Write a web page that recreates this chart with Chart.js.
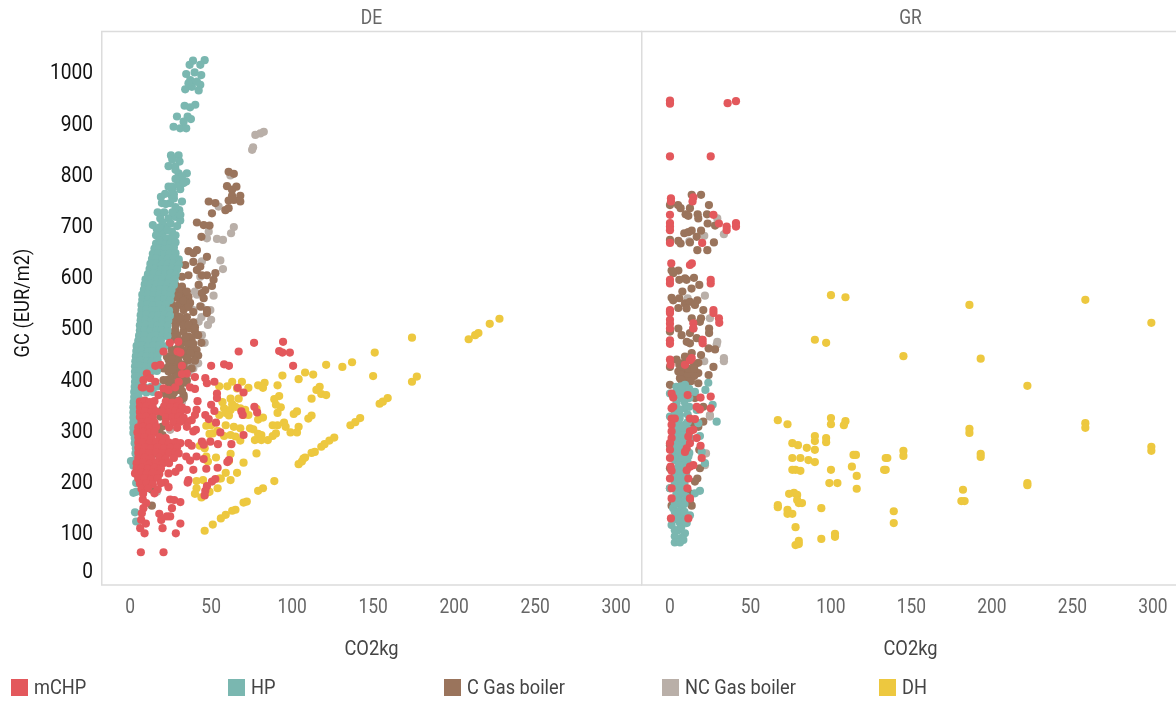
<!DOCTYPE html>
<html><head><meta charset="utf-8">
<script src="https://cdn.jsdelivr.net/npm/chart.js@4"></script>
<style>
html,body{margin:0;padding:0;background:#fff;width:1176px;height:702px;overflow:hidden}
canvas{position:absolute;top:0}
#c1{left:0}#c2{left:641px}
.lg{position:absolute;top:679px;height:17px;font:20px/17px "Roboto",sans-serif;color:#444;white-space:nowrap}
.lg i{display:inline-block;width:17px;height:17px;vertical-align:top;margin-right:6px}
.lg span{display:inline-block;transform:scaleX(.91);transform-origin:0 50%}
</style></head><body>
<canvas id="c1"></canvas>
<canvas id="c2"></canvas>
<div id="legend"></div>
<script>
const seriesNames=["mCHP","HP","C Gas boiler","NC Gas boiler","DH"];
const seriesColors=["#E3585C","#7AB7B0","#9A745C","#B9AFA8","#EDC83F"];
const yTicks=[0,100,200,300,400,500,600,700,800,900,1000];
const xTicks=[0,50,100,150,200,250,300];
const yAxisTitle='GC (EUR/m2)';

const deMchp=[[24.5,470],[29.7,472],[20.6,453],[29.3,453],[31,451],[15.5,425],[18.6,427],[32,425],[50,425],[58,428],[61,425],[67,453],[76.5,470],[94.4,472],[92,454],[94,451],[98.6,451],[100.6,425],[10.3,410],[35,410],[32,409],[40,403],[46.4,401],[47.4,391],[52,394],[8.2,397],[12.4,401],[15.5,394],[8.2,383],[12.4,381],[7.2,383],[20.6,381],[23.7,378],[27.8,383],[30,394],[37,383],[40,380],[66.4,382],[70,373],[53.6,371],[53.6,362],[17.5,368],[41.6,356],[50,349],[52,337],[76.7,345],[78.4,334],[68.7,336],[69.5,329],[35,339],[41,339],[40,329],[38,319],[46.4,329],[48.5,321],[53,314],[40.6,300],[39,297],[35.5,316],[55.7,295],[70,290],[36,274],[38,269],[44.3,277],[49.5,277],[45.4,271],[54.2,272],[62.5,272],[41,248],[45.4,243],[34.6,248],[37,240],[61,241],[60,237],[54,226],[47,224],[39,222],[30.3,226],[28,218],[23.7,215],[36,202],[35.5,197],[52.6,204],[50.5,199],[47.4,190],[46.4,181],[46,172],[23.7,188],[21.6,197],[7.8,164],[9.9,157],[24.7,164],[27.2,163],[31,159],[25.8,147],[24.7,131],[22.7,131],[18,136],[19.2,124],[8.2,147],[7.2,137],[6.8,124],[9.7,117],[6.2,108],[8.9,98],[20,108],[31,117],[28.2,98],[6.6,61],[20.6,61],
[6,355],[9,357],[12,354],[15,356],[22,355],[26,353],[30,356],[6,345],[10,346],[14,344],[21,346],[25,344],[29,345],[32,344],[6,335],[9,336],[13,334],[16,336],[20,335],[24,334],[28,336],[31,334],[6,325],[10,326],[14,324],[22,325],[26,324],[30,326],[33,324],[7,315],[11,316],[15,314],[22,315],[27,314],[31,316],[5,305],[8,306],[12,304],[16,306],[24,305],[29,304],[35,306],[4.5,295],[8,296],[12,294],[15,296],[5,285],[9,286],[13,284],[18,286],[22,284],[5,275],[8,276],[12,274],[16,276],[20,274],[24,275],[28,276],[31,274],[5,265],[9,266],[13,264],[17,266],[21,264],[25,265],[29,266],[5,255],[8,256],[12,254],[16,256],[20,254],[24,255],[28,256],[30,254],[5,245],[9,246],[13,244],[18,246],[22,244],[27,245],[4,235],[8,236],[12,234],[16,236],[20,234],[24,235],[4,225],[7,226],[11,224],[15,226],[19,224],[3,215],[7,216],[10,214],[14,216],[18,214],[5,205],[9,206],[13,204],[17,206],[6,195],[10,196],[14,194],[19,196],[7,185],[11,186],[17,184],[8,175],[15,176]];

const deHp=[[38.8,1021],[36.7,1013],[46,1022],[43.3,1013],[34.6,995],[43.9,993],[39.8,998],[37.1,983],[43.3,974],[34,965],[38.1,970],[42.3,963],[36,977],[41.2,980],[33.6,933],[40.2,935],[37,930],[28.9,912],[35.5,912],[37.5,907],[26.8,892],[30.9,889],[34.6,889],[33,902],[25.2,836],[29.9,836],[30.5,824],[23.7,815],[27.8,814],[35,801],[29.9,801],[29.3,788],[34.6,785],[32,795],[23.7,775],[30.9,770],[25.8,769],[21.6,761],[25.8,756],[32,746],[19.6,743],[24.7,743],[30.3,729],[18.6,713],[23.7,713],[27.8,716],[30.9,709],[16.5,692],[21.6,697],[25.8,687],[19.6,684],[23.7,674],[19,755],[27,752],[22,741],[28,735],[17,725],[21,725],[26,725],[20,705],[25,703],[29,698],[14,700],[18,695],[23,690],[28,680],[16,680],[21,675],[18,670],[26,672],[31,720],[27,760],[26,775],[30,778],[28,790],[33,782],[28,808],[26,828],
[16,664],[19,665],[22,663],[25,664],[28,666],[15,654],[18,655],[21,653],[24,654],[27,656],[14,644],[17.5,645],[21,643],[24.5,644],[28,645],[13.5,634],[16,635],[20,633],[23,634],[27,635],[30,633],[12.5,624],[16,625],[19.5,623],[23,624],[26.5,625],[30,623],[12,614],[15,615],[19,613],[22,614],[26,615],[29,613],[11,604],[14.5,605],[18,603],[21.5,604],[25,605],[28,603],[9.5,594],[13,595],[17,593],[20,594],[24,595],[27.5,593],[9,584],[12.5,585],[16,583],[19.5,584],[23,585],[27,583],[8.5,574],[12,575],[15,573],[18.5,574],[22,575],[25.5,573],[7.5,564],[11,565],[14.5,563],[18,564],[21.5,565],[25,563],[7.5,554],[11,555],[14,553],[17.5,554],[21,555],[24.5,553],[7,544],[10.5,545],[14,543],[18,544],[22,545],[7,534],[10,535],[13.5,533],[17,534],[20.5,535],[24,533],[6.5,524],[10,525],[14,523],[17.5,524],[21,525],[24.5,523],[6.5,514],[9.5,515],[13,513],[16.5,514],[20,515],[23.5,513],[6,504],[9.5,505],[13.5,503],[17,504],[20,505],[23,503],[6,494],[9,495],[12.5,493],[16,494],[19.5,495],[23,493],[5.5,484],[9,485],[13,483],[16.5,484],[20,485],[23,483],[5,474],[8.5,475],[12,473],[15.5,474],[19,475],[4,464],[7.5,465],[11,463],[14.5,464],[18,465],[21,463],[3.8,454],[7,455],[11,453],[14,454],[18,455],[20,453],[3.5,444],[7,445],[10,443],[14,444],[17,445],[3.2,434],[6.5,435],[10,433],[13.5,434],[17,435],[3,424],[6,425],[9.5,423],[13,424],[3,414],[6,415],[9,413],[13,414],[16.5,415],[3,404],[6,405],[3,394],[6,395],[2.8,384],[5.5,385],[9,383],[13,384],[17,385],[2.5,374],[6,375],[10,373],[14,374],[2.5,364],[5,365],[2.2,354],[4.5,355],[2,344],[4.5,345],[2,334],[4.5,335],[2,324],[4,325],[2,314],[4,315],[2,304],[4.5,305],[2,294],[4.5,295],[2.8,284],[2.8,274],[3.5,264],[3.3,254],[0.5,239],[3,240],[2,230],[4.5,212],[3.7,196],[2,177],[3.7,179],[3,139],[3.7,121]];

const deCGas=[[60.8,804],[64,800],[59.8,776],[65.6,775],[62.9,769],[68,757],[62.9,757],[64,749],[68,746],[60.8,748],[48.5,746],[52.6,743],[50.5,723],[58.8,729],[60.8,733],[41.2,705],[45.4,700],[49,699],[44,677],[36,649],[41.2,651],[39,645],[47.4,638],[29.9,627],[34,622],[39,628],[43.3,619],[41.2,612],[47.4,602],[32,599],[36,602],[52.6,606],[51.5,593],[50.5,581],[44.3,602],[42.3,583],[46.4,573],[44.3,567],[45.4,557],[27.8,583],[32,580],[28.9,567],[33,563],[36,560],[31,554],[25.8,544],[30,544],[34,547],[43.3,541],[47.4,534],[31,547],[47.4,528],[27.8,534],[33,534],[25.8,515],[30,511],[34,515],[27.8,495],[33,492],[40,492],[25.8,476],[32,472],[38,479],[41,456],[40,446],[37,462],[25.8,456],[31,446],[23.7,437],[27.8,430],[33,427],[23.7,414],[27.8,407],[33,401],[22.7,397],[30,378],[33,368],[26.8,358],[31,358],[21.6,345],[18.6,326],[19.6,306],[16.5,254],[13.4,152],[13.4,183],[25.8,378],[22.7,365],[35,469],[22.7,443],[20.6,420],[20.6,397],[17.5,293],[16.5,274],[24,525],[29,522],[35,520],[39,510],[28,505],[33,503],[37,498],[25,488],[29,485],[36,482],[31,462],[35,450],[28,445],[24,465],[29,418],[24,425],[31,415],[36,436],[34,417],[24,387],[28,391],[31,388],[26,368],[21,372],[35,396],[26,575],[29,575],[32,572],[35,570],[27,558],[30,560],[33,552],[37,548],[26,535],[36,540],[39,530],[27,515],[31,520],[36,505],[40,500],[42,485],[44,470],[27,480],[30,475],[34,480],[39,468],[26,450],[29,458],[33,455],[37,450],[42,445],[26,437],[30,433],[35,440],[40,435],[26,418],[33,410],[38,420],[25,400],[29,404],[34,392],[26,380],[32,376],[27,372],[24,352],[29,350],[33,362],[20,340],[18,300],[20,290],[21,330]];

const deNcGas=[[77.3,876],[80.4,879],[82.5,882],[75.9,852],[75.3,847],[64,696],[62.3,684],[53.6,673],[57.3,671],[48.5,687],[47.4,674],[55.7,631],[57.3,614],[51.5,562],[54.6,736],[61.9,797],[40,570],[41.2,564],[44.3,629],[43.3,599],[39,534],[49.5,534],[42.3,511],[44.3,485],[40,437],[37,427],[33,365],[24.7,300],[16.5,179],[44,520],[48,505],[46,470],[42,430],[39,420],[38,500],[44,540],[50,515],[36,410],[32,355]];

const deDh=[[46,103],[51,115],[56,127],[59,134],[63,142],[65,144],[70,158],[72,160],[79,181],[82,186],[89,200],[104,233],[106,238],[107,244],[108,246],[112,255],[114,257],[118,267],[120,272],[123,279],[126,285],[136,309],[139,315],[142,323],[154,351],[156,355],[159,362],[174,394],[177,404],[209,477],[213,485],[215,489],[222,507],[228,517],[174,480],[151,451],[121,427],[131,423],[137,432],[150,405],[94,406],[104,399],[108,412],[113,408],[91,387],[83,392],[79,387],[82,382],[73,382],[69,394],[63,394],[60,385],[55,385],[66,381],[117,384],[115,378],[118,370],[121,368],[112,361],[92,366],[89,360],[90,349],[93,344],[91,333],[101,331],[103,336],[110,322],[112,328],[62,361],[67,361],[57,354],[63,350],[58,342],[55,329],[59,333],[62,339],[68,342],[71,339],[78,341],[73,329],[61,328],[79,320],[82,324],[70,329],[65,345],[47,308],[50,309],[59,309],[64,306],[68,303],[74,303],[76,301],[51,293],[49,292],[54,298],[58,288],[62,290],[65,287],[68,279],[77,280],[81,290],[81,280],[85,280],[88,288],[90,293],[88,309],[91,309],[95,314],[96,306],[99,295],[103,295],[104,306],[79,292],[46,264],[43,269],[78,254],[62,253],[53,246],[47,248],[48,238],[61,239],[70,236],[66,216],[59,216],[62,202],[56,205],[45,202],[41,200],[54,186],[48,178],[41,186],[40,175],[44,168],[49,179],[55,205]];

const grMchp=[[0,943],[0,937],[35.8,938],[41,942],[0,834],[25.3,834],[0.6,752],[0.6,746],[14.5,754],[14,746],[0,720],[27,720],[30.4,703],[0,704],[0,697],[0,690],[0,665],[20,665],[35.2,697],[35.2,690],[41,704],[41,697],[0.8,625],[13.6,625],[12.4,622],[0,593],[0,586],[25.3,593],[25.3,586],[0,534],[0,528],[27,534],[27,528],[30.4,518],[0,531],[0,515],[0,507],[0,498],[30.6,509],[14.5,508],[14.5,498],[0,475],[0,468],[20.3,476],[20.3,469],[0,437],[0.4,427],[9.3,427],[12.4,436],[13.5,440],[1,371],[2,363],[11,368],[19,363],[25.3,365],[1,342],[2,345],[16.6,345],[18.6,340],[25.3,342],[1,322],[3,322],[12.4,322],[15.5,321],[1,310],[1,297],[12.4,297],[14.5,300],[11.4,287],[16.6,284],[1,284],[0,274],[0,261],[12.4,274],[10.4,264],[9.3,257],[19,269],[19.7,245],[0,245],[0.4,228],[1,220],[12.4,228],[14.5,231],[10.4,221],[0,205],[11.4,205],[1,186],[10.8,186],[1,166],[12.4,166],[0.6,127],[11.4,127]];

const grHp=[[23.8,392],[22,378],[4,384],[9.3,388],[0,371],[5.8,371],[15.5,374],[7.2,362],[4,352],[26.5,349],[16.6,339],[9.3,342],[0,326],[6.2,329],[29,316],[5,313],[9.3,310],[17.6,313],[7.2,303],[6.2,284],[18.6,288],[19.7,257],[6.2,248],[11.4,248],[3,241],[8.3,238],[21.7,235],[5.2,228],[9.3,228],[5.2,215],[7.2,202],[3.7,202],[0,186],[6.2,189],[18.6,181],[15.5,176],[5.2,169],[2,147],[7.2,147],[5.2,137],[12.4,133],[1,114],[6.2,118],[10.4,118],[5.2,104],[9.3,98],[3,92],[7.2,89],[3,80],[6.2,80],[8.3,85],[5.2,157],[7.2,160],[4,166],[4,262],[9,268],[3,275],[8,278],[4,292],[9,295],[4,222],[8,210],[3,195],[8,176],[4,128],[8,130],[3,104],[7,110],[3,256],[8,252],[11,236],[3,214],[3,125],[6,125],[9,122],[3,140],[6,142],[9,140],[3,155],[9,155],[4,175],[7,180],[10,170],[3,188],[9,195],[6,205],[10,212],[3,222],[7,220],[10,225],[6,236],[9,244],[5,245],[3,250],[6,258],[9,258],[12,255],[5,270],[10,275],[13,283],[3,283],[8,290],[12,300],[4,300],[8,305],[4,320],[11,315],[6,322],[11,330],[3,335],[6,340],[12,345],[9,355],[3,365],[12,362],[9,375],[4,375],[12,380],[7,385]];

const grCGas=[[13.5,759],[19.3,759],[0,739],[5,739],[6.6,733],[12.4,733],[24.2,739],[9.7,721],[11.4,718],[17.2,721],[17.6,713],[23,721],[23.4,703],[28,699],[8.9,684],[11.4,686],[13.5,689],[19.3,689],[16.6,677],[0,671],[5.2,669],[6.6,664],[12.4,666],[27.3,666],[17,651],[23.2,651],[1,611],[5.2,611],[2,606],[5.8,593],[9.3,596],[10.3,593],[14.9,597],[18.2,583],[13.4,576],[7.7,570],[1,558],[5.8,557],[2,553],[9.3,547],[12.4,550],[17,553],[10.3,537],[5.2,538],[15.5,544],[20.7,534],[13.5,518],[19.3,518],[5.2,498],[7.2,485],[0,492],[12.4,489],[10.4,472],[12.4,469],[18.6,511],[14.5,498],[24.3,498],[24.3,489],[19.7,476],[16.6,479],[24,459],[28,457],[13.5,450],[19.3,446],[17.6,431],[4.1,437],[9.3,443],[0,423],[5.8,427],[27,423],[24,407],[5.2,414],[9.3,411],[13.5,411],[17.6,411],[6.2,401],[12.4,401],[17.6,391],[0,388],[15.5,362],[20.7,345],[20.7,316],[17.6,306],[13.5,313],[0,270],[4.1,270],[7.2,267],[18.2,261],[0,225],[18.6,225],[17,205],[15.5,199],[0,186],[12.4,176],[13.5,152],[1,152],[12.4,163],[7,430],[11,436],[15,428],[7,420],[11,420],[15,420],[7,408],[11,405],[15,405],[9,395],[13,395],[7,398]];

const grNcGas=[[29.4,713],[33.5,682],[21.3,679],[12,668],[11,557],[21.7,562],[24.8,518],[29.4,472],[29,466],[33.5,440],[33.5,434],[21.3,434],[24.8,329],[24.8,326],[22.4,254],[21.7,231]];

const grDh=[[100,563],[109,559],[186,544],[258,554],[299,509],[90,476],[97,470],[145,444],[193,439],[222,386],[67,319],[73,311],[100,323],[100,311],[109,317],[108,309],[258,313],[258,304],[299,267],[299,259],[186,302],[186,294],[193,253],[193,247],[145,259],[145,249],[134,245],[135,245],[134,222],[133,222],[114,251],[115.5,251],[113,228],[116,210],[116,185],[76,274],[79.5,270],[90,288],[90,278],[97,284],[97,276],[85,265],[90,261],[81,245],[76,245],[86,241],[90,237],[78,222],[81,220],[76,222],[100,222],[99,196],[104,196],[222,196],[222,192],[182,183],[181,161],[183,161],[139,141],[139,118],[67,153],[67,149],[74,175],[77,177],[79,173],[80,157],[82,157],[79,163],[73,144],[73,136],[76,136],[94,147],[78,110],[102.5,97],[102.5,91],[94,87],[80,83],[78,75],[80,77]];

const fontFam='"Roboto",sans-serif';
const toPts=a=>a.map(p=>({x:p[0],y:p[1]}));
const narrow={id:'narrow',beforeDraw(c){const g=c.ctx;if(g._narrow)return;g._narrow=true;const f=g.fillText.bind(g);
  g.fillText=(t,x,y,m)=>{let dx=0,dy=0;
    if(g.textAlign==='right'&&g.textBaseline==='middle')dy=2.5;
    if(t===yAxisTitle)dx=5;
    g.save();g.translate(x+dx,y+dy);g.scale(.87,1);f(t,0,0,m);g.restore();};}};
const frame={id:'frame',afterDraw(c){const a=c.chartArea,g=c.ctx;g.save();g.strokeStyle='#dcdcdc';g.lineWidth=1.5;g.beginPath();
  g.moveTo(a.left,a.top+.5);g.lineTo(a.right,a.top+.5);g.moveTo(a.left+.75,a.top);g.lineTo(a.left+.75,a.bottom);
  g.moveTo(a.left,a.bottom);g.lineTo(a.right,a.bottom);g.stroke();g.restore();}};

function build(id,title,sets,xMax,showY){
  return new Chart(document.getElementById(id),{
    type:'scatter',
    data:{datasets:sets.map((s,i)=>({label:seriesNames[i],data:toPts(s),backgroundColor:seriesColors[i],borderWidth:0,pointRadius:4.1,pointHoverRadius:4.1}))},
    plugins:[narrow,frame],
    options:{responsive:false,animation:false,devicePixelRatio:1,
      layout:{padding:0,autoPadding:false},
      plugins:{legend:{display:false},tooltip:{enabled:false},
        title:{display:true,fullSize:false,text:title,color:'#666',font:{family:fontFam,size:20,weight:'normal',lineHeight:1.2},padding:{top:7,bottom:0}}},
      scales:{
        x:{type:'linear',min:-18,max:xMax,grid:{display:false},border:{display:false},
          afterFit(s){s.height=117;},
          ticks:{stepSize:50,includeBounds:false,autoSkip:false,maxRotation:0,padding:3,color:'#666',font:{family:fontFam,size:20},callback:v=>xTicks.includes(v)?String(v):''},
          title:{display:true,text:'CO2kg',color:'#444',font:{family:fontFam,size:21},padding:{top:14,bottom:40}}},
        y:{type:'linear',display:showY,min:-3,max:1079,grid:{display:false},border:{display:false},
          afterFit(s){s.width=showY?101:0;},
          ticks:{stepSize:100,includeBounds:false,autoSkip:false,padding:0,color:'#111',font:{family:fontFam,size:22,lineHeight:1.2},
            callback:v=>v===0?['0','']:(yTicks.includes(v)?String(v):'')},
          title:{display:showY,text:yAxisTitle,color:'#111',font:{family:fontFam,size:21},padding:{top:11,bottom:0}}}
      }
    }
  });
}
const c1=document.getElementById('c1');c1.width=642;c1.height=702;
const c2=document.getElementById('c2');c2.width=539;c2.height=702;
build('c1','DE',[deMchp,deHp,deCGas,deNcGas,deDh],316,true);
build('c2','GR',[grMchp,grHp,grCGas,grNcGas,grDh],316.8,false);

const legendX=[11,228,444,662,879];
const lg=document.getElementById('legend');
seriesNames.forEach((n,i)=>{const d=document.createElement('div');d.className='lg';d.style.left=legendX[i]+'px';
  d.innerHTML='<i style="background:'+seriesColors[i]+'"></i><span>'+n+'</span>';lg.appendChild(d);});
</script></body></html>
